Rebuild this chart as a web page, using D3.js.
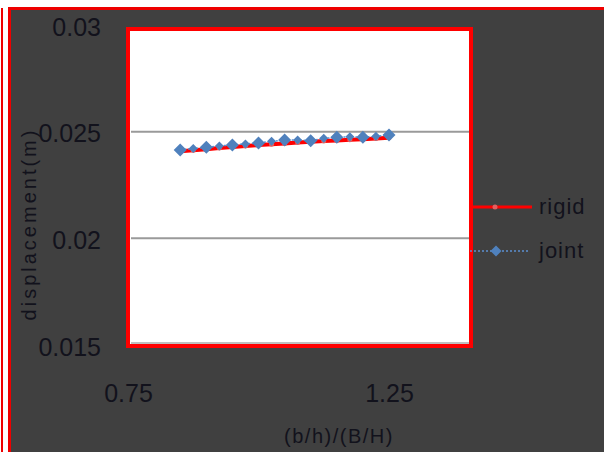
<!DOCTYPE html>
<html>
<head>
<meta charset="utf-8">
<script src="https://cdn.jsdelivr.net/npm/d3@7"></script>
<style>
  html, body { margin: 0; padding: 0; background: #fff; }
  svg { display: block; }
</style>
</head>
<body>
<svg></svg>
<script>
const ratio = [0.85, 0.875, 0.9, 0.925, 0.95, 0.975, 1.0, 1.025, 1.05, 1.075, 1.1, 1.125, 1.15, 1.175, 1.2, 1.225, 1.25];
const rigid = [0.02408, 0.02413, 0.02418, 0.02423, 0.02428, 0.02433, 0.02437, 0.02441, 0.02445, 0.02449, 0.02453, 0.02456, 0.02459, 0.02462, 0.02465, 0.02468, 0.02471];
const joint = [0.024145, 0.024206, 0.024266, 0.024332, 0.024379, 0.024425, 0.024472, 0.024547, 0.024612, 0.024612, 0.024579, 0.024687, 0.024734, 0.024766, 0.024734, 0.02478, 0.024846];
const yTicks = [0.015, 0.02, 0.025, 0.03];
const xTicks = [0.75, 1.25];
const seriesNames = ["rigid", "joint"];

const width = 604;
const height = 452;
const textColor = "#12121c";
const font = "'Liberation Sans', Arial, sans-serif";

const svg = d3.select("svg").attr("width", width).attr("height", height);

// background + frames
svg.append("rect").attr("width", width).attr("height", height).attr("fill", "#fff");
svg.append("rect").attr("x", 1).attr("y", 8).attr("width", 2).attr("height", height - 8).attr("fill", "#e00");
svg.append("rect").attr("x", 8).attr("y", 7).attr("width", width - 8).attr("height", height - 7).attr("fill", "#e00");
svg.append("rect").attr("x", 11).attr("y", 10).attr("width", width - 11).attr("height", height - 10).attr("fill", "#404040");

const x = d3.scaleLinear().domain([0.75, 1.25]).range([128, 389]);
const y = d3.scaleLinear().domain([0.015, 0.03]).range([345, 25]);

// plot area
svg.append("rect")
    .attr("x", 128).attr("y", 29)
    .attr("width", 343).attr("height", 317)
    .attr("fill", "#fff")
    .attr("stroke", "#f00")
    .attr("stroke-width", 4);
svg.append("line")
    .attr("x1", 131).attr("x2", 469)
    .attr("y1", 343).attr("y2", 343)
    .attr("stroke", "#aaa").attr("stroke-width", 1.5);

// gridlines
svg.append("g")
    .selectAll("line")
    .data(yTicks.filter(d => d > 0.015 && d < 0.03))
    .join("line")
    .attr("x1", 131).attr("x2", 469)
    .attr("y1", d => y(d)).attr("y2", d => y(d))
    .attr("stroke", "#9a9a9a").attr("stroke-width", 2);

// y axis labels
const yAxis = svg.append("g")
    .attr("transform", "translate(101,2)")
    .call(d3.axisLeft(y).tickValues(yTicks).tickSize(0).tickPadding(0).tickFormat(d3.format("")));
yAxis.select(".domain").remove();
yAxis.selectAll("text")
    .attr("fill", textColor)
    .style("font-family", font)
    .style("font-size", "25px");

// x axis labels
const xAxis = svg.append("g")
    .attr("transform", "translate(0,384)")
    .call(d3.axisBottom(x).tickValues(xTicks).tickSize(0).tickPadding(0).tickFormat(d3.format("")));
xAxis.select(".domain").remove();
xAxis.selectAll("text")
    .attr("fill", textColor)
    .style("font-family", font)
    .style("font-size", "25px");

// axis titles
svg.append("text")
    .attr("transform", "translate(36,224) rotate(-90)")
    .attr("text-anchor", "middle")
    .attr("fill", textColor)
    .style("font-family", font)
    .style("font-size", "20px")
    .style("letter-spacing", "3px")
    .text("displacement(m)");

svg.append("text")
    .attr("x", 339).attr("y", 443)
    .attr("text-anchor", "middle")
    .attr("fill", textColor)
    .style("font-family", font)
    .style("font-size", "20px")
    .style("letter-spacing", "1.5px")
    .text("(b/h)/(B/H)");

// series
const lineGen = d3.line().x((d, i) => x(ratio[i])).y(d => y(d));

svg.append("path")
    .datum(rigid)
    .attr("fill", "none")
    .attr("stroke", "#f00")
    .attr("stroke-width", 4)
    .attr("d", lineGen);

svg.append("g")
    .selectAll("circle")
    .data(rigid)
    .join("circle")
    .attr("cx", (d, i) => x(ratio[i]))
    .attr("cy", d => y(d))
    .attr("r", 2.5)
    .attr("fill", "#e06060");

svg.append("path")
    .datum(joint)
    .attr("fill", "none")
    .attr("stroke", "#5b8fd0")
    .attr("stroke-width", 1.5)
    .attr("stroke-dasharray", "2,2")
    .attr("d", lineGen);

// rhombus marker, r = half diagonal
const rhombus = r => `M0,${-r}L${r},0L0,${r}L${-r},0Z`;
svg.append("g")
    .selectAll("path")
    .data(joint)
    .join("path")
    .attr("transform", (d, i) => `translate(${x(ratio[i])},${y(d)})`)
    .attr("d", (d, i) => rhombus(i % 2 === 0 ? 6.5 : 4.5))
    .attr("fill", "#4f81bd");

// legend
const legend = svg.append("g");
const legendY = [207, 251];
seriesNames.forEach((name, i) => {
    const g = legend.append("g").attr("transform", `translate(0,${legendY[i]})`);
    if (i === 0) {
        g.append("line").attr("x1", 470).attr("x2", 532).attr("stroke", "#f00").attr("stroke-width", 3);
        g.append("circle").attr("cx", 495).attr("r", 2.5).attr("fill", "#e06060");
    } else {
        g.append("line").attr("x1", 470).attr("x2", 530).attr("stroke", "#5b8fd0")
            .attr("stroke-width", 1.5).attr("stroke-dasharray", "2,2");
        g.append("path").attr("transform", "translate(496,0)").attr("d", rhombus(5.5)).attr("fill", "#4f81bd");
    }
    g.append("text")
        .attr("x", 539).attr("dy", "0.33em")
        .attr("fill", textColor)
        .style("font-family", font)
        .style("font-size", "22px")
        .style("letter-spacing", "1px")
        .text(name);
});
</script>
</body>
</html>
